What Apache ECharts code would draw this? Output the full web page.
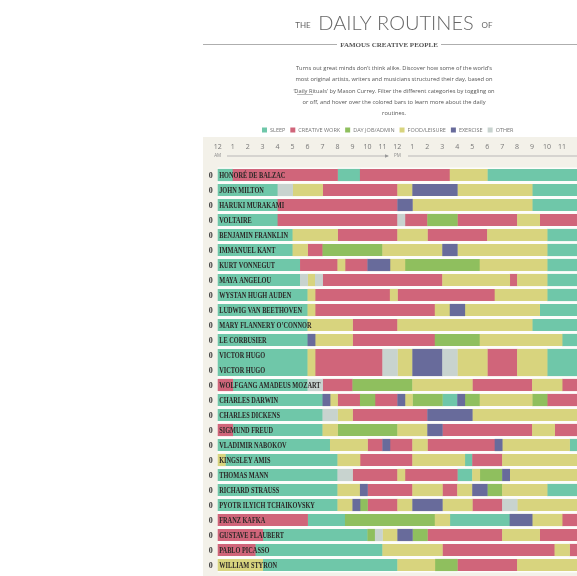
<!DOCTYPE html>
<html>
<head>
<meta charset="utf-8">
<title>The Daily Routines of Famous Creative People</title>
<script src="https://cdn.jsdelivr.net/npm/echarts@6/dist/echarts.min.js"></script>
<style>
	html,body{
		margin:0;
		padding:0;
		background:#fff;
	}
	#main{
		width:577px;
		height:576px;
	}
</style>
</head>
<body>
<div id="main"></div>
<script>
// activity codes
var S = 0, C = 1, D = 2, F = 3, E = 4, O = 5;

var activities = ['SLEEP', 'CREATIVE WORK', 'DAY JOB/ADMIN', 'FOOD/LEISURE', 'EXERCISE', 'OTHER'];
var colors = ['#6fc7a9', '#d0657a', '#8fbf5e', '#d8d47e', '#686b9b', '#c8d3cf'];

var hourLabels = ['12', '1', '2', '3', '4', '5', '6', '7', '8', '9', '10', '11',
	'12', '1', '2', '3', '4', '5', '6', '7', '8', '9', '10', '11', '12'];
var meridiem = { 0: 'AM', 12: 'PM' };

var people = ['HONORÉ DE BALZAC', 'JOHN MILTON', 'HARUKI MURAKAMI', 'VOLTAIRE', 'BENJAMIN FRANKLIN',
	'IMMANUEL KANT', 'KURT VONNEGUT', 'MAYA ANGELOU', 'WYSTAN HUGH AUDEN', 'LUDWIG VAN BEETHOVEN',
	'MARY FLANNERY O’CONNOR', 'LE CORBUSIER', 'VICTOR HUGO', 'WOLFGANG AMADEUS MOZART', 'CHARLES DARWIN',
	'CHARLES DICKENS', 'SIGMUND FREUD', 'VLADIMIR NABOKOV', 'KINGSLEY AMIS', 'THOMAS MANN',
	'RICHARD STRAUSS', 'PYOTR ILYICH TCHAIKOVSKY', 'FRANZ KAFKA', 'GUSTAVE FLAUBERT', 'PABLO PICASSO',
	'WILLIAM STYRON'];
// rows that take two lines in the table
var doubleRows = ['VICTOR HUGO'];

// [start hour, end hour, activity]
var routines = [
	[[0, 1, S], [1, 8, C], [8, 9.5, S], [9.5, 15.5, C], [15.5, 18, F], [18, 24, S]],
	[[0, 4, S], [4, 5, O], [5, 7, F], [7, 12, C], [12, 13, F], [13, 16, E], [16, 21, F], [21, 24, S]],
	[[0, 4, S], [4, 12, C], [12, 13, E], [13, 21, F], [21, 24, S]],
	[[0, 4, S], [4, 12, C], [12, 12.5, O], [12.5, 14, C], [14, 16, D], [16, 20, C], [20, 21.5, F], [21.5, 24, C]],
	[[0, 5, S], [5, 8, F], [8, 12, C], [12, 14, F], [14, 18, C], [18, 22, F], [22, 24, S]],
	[[0, 5, S], [5, 6, F], [6, 7, C], [7, 11, D], [11, 15, F], [15, 16, E], [16, 22, F], [22, 24, S]],
	[[0, 5.5, S], [5.5, 8, C], [8, 8.5, F], [8.5, 10, C], [10, 11.5, E], [11.5, 12.5, F], [12.5, 17.5, D], [17.5, 22, F], [22, 24, S]],
	[[0, 5.5, S], [5.5, 6, O], [6, 6.5, F], [6.5, 7, O], [7, 15, C], [15, 19.5, F], [19.5, 20, C], [20, 22, F], [22, 24, S]],
	[[0, 6, S], [6, 6.5, F], [6.5, 11.5, C], [11.5, 12, F], [12, 18.5, C], [18.5, 22, F], [22, 24, S]],
	[[0, 6, S], [6, 6.5, F], [6.5, 14.5, C], [14.5, 15.5, F], [15.5, 16.5, E], [16.5, 21.5, F], [21.5, 24, S]],
	[[0, 6, S], [6, 9, F], [9, 12, C], [12, 21, F], [21, 24, S]],
	[[0, 6, S], [6, 6.5, E], [6.5, 9, F], [9, 14.5, C], [14.5, 17.5, D], [17.5, 23, F], [23, 24, S]],
	[[0, 6, S], [6, 6.5, F], [6.5, 11, C], [11, 12, O], [12, 13, F], [13, 15, E], [15, 16, O], [16, 18, F], [18, 20, C], [20, 22, F], [22, 24, S]],
	[[0, 1, C], [1, 6, S], [6, 7, O], [7, 9, C], [9, 13, D], [13, 17, F], [17, 21, C], [21, 23, F], [23, 24, C]],
	[[0, 7, S], [7, 7.5, E], [7.5, 8, F], [8, 9.5, C], [9.5, 10.5, D], [10.5, 12, C], [12, 12.5, E], [12.5, 13, F], [13, 15, D], [15, 16, S], [16, 16.5, E], [16.5, 17.5, D], [17.5, 21, F], [21, 22, D], [22, 24, C]],
	[[0, 7, S], [7, 8, O], [8, 9, F], [9, 14, C], [14, 17, E], [17, 24, F]],
	[[0, 1, C], [1, 7, S], [7, 8, F], [8, 12, D], [12, 14, F], [14, 15, E], [15, 21, C], [21, 22.5, F], [22.5, 24, C]],
	[[0, 7.5, S], [7.5, 10, F], [10, 11, C], [11, 11.5, E], [11.5, 13, C], [13, 14, F], [14, 18.5, C], [18.5, 19, E], [19, 23.5, F], [23.5, 24, S]],
	[[0, 0.5, F], [0.5, 8, S], [8, 9.5, F], [9.5, 13, C], [13, 16.5, F], [16.5, 17, S], [17, 19, C], [19, 24, F]],
	[[0, 8, S], [8, 9, O], [9, 12, C], [12, 12.5, F], [12.5, 16, C], [16, 17, S], [17, 17.5, F], [17.5, 19, D], [19, 19.5, E], [19.5, 24, F]],
	[[0, 8, S], [8, 9.5, F], [9.5, 10, E], [10, 13, C], [13, 15, F], [15, 16, C], [16, 17, F], [17, 18, E], [18, 19, D], [19, 22, F], [22, 24, S]],
	[[0, 8, S], [8, 9, F], [9, 9.5, E], [9.5, 10, D], [10, 12, C], [12, 13, F], [13, 15, E], [15, 17, F], [17, 19, C], [19, 20, O], [20, 24, F]],
	[[0, 6, C], [6, 8.5, S], [8.5, 14.5, D], [14.5, 15.5, F], [15.5, 19.5, S], [19.5, 21, E], [21, 23, F], [23, 24, C]],
	[[0, 3, C], [3, 10, S], [10, 10.5, D], [10.5, 11, O], [11, 12, F], [12, 13, E], [13, 14, D], [14, 19, C], [19, 21.5, F], [21.5, 24, C]],
	[[0, 2.5, C], [2.5, 11, S], [11, 15, F], [15, 22.5, C], [22.5, 23.5, F], [23.5, 24, C]],
	[[0, 3, F], [3, 12, S], [12, 14.5, F], [14.5, 16, D], [16, 20, C], [20, 24, F]]
];

// which table line each person starts on
var slotOf = [], spanOf = [], totalSlots = 0;
people.forEach(function (name, i) {
	slotOf[i] = totalSlots;
	spanOf[i] = doubleRows.indexOf(name) >= 0 ? 2 : 1;
	totalSlots += spanOf[i];
});

function renderBar(params, api) {
	var a = api.coord([api.value(0), api.value(2)]);
	var b = api.coord([api.value(1), api.value(2) + api.value(3)]);
	return {
		type: 'rect',
		shape: { x: a[0], y: a[1] + 1.4, width: b[0] - a[0] + 0.4, height: b[1] - a[1] - 2.8 },
		style: { fill: api.visual('color') }
	};
}

function renderName(params, api) {
	var p = api.coord([0, api.value(0)]);
	var name = people[api.value(1)];
	return {
		type: 'group',
		children: [{
			type: 'text',
			x: p[0] + 1.5, y: p[1] + 0.5, scaleX: 0.7,
			style: { text: name, font: 'bold 9px "Liberation Serif"', fill: '#2b2726', align: 'left', verticalAlign: 'middle' }
		}, {
			type: 'text',
			x: p[0] - 7, y: p[1] + 0.5,
			style: { text: '0', font: 'bold 8px "Liberation Serif"', fill: '#3a3a3a', align: 'center', verticalAlign: 'middle' }
		}]
	};
}

var series = activities.map(function (act, k) {
	var data = [];
	routines.forEach(function (segs, i) {
		segs.forEach(function (s) {
			if (s[2] === k) data.push([s[0], s[1], slotOf[i], spanOf[i]]);
		});
	});
	return {
		name: act,
		type: 'custom',
		renderItem: renderBar,
		itemStyle: { color: colors[k] },
		encode: { x: [0, 1], y: 2 },
		data: data
	};
});

var nameData = [];
people.forEach(function (name, i) {
	for (var j = 0; j < spanOf[i]; j++) nameData.push([slotOf[i] + j + 0.5, i]);
});
series.push({
	name: 'names',
	type: 'custom',
	z: 5,
	silent: true,
	renderItem: renderName,
	encode: { y: 0 },
	data: nameData
});

var intro = [
	'Turns out great minds don’t think alike. Discover how some of the world’s',
	'most original artists, writers and musicians structured their day, based on',
	'‘Daily Rituals’ by Mason Currey. Filter the different categories by toggling on',
	'or off, and hover over the colored bars to learn more about the daily',
	'routines.'
];

var graphics = [
	{ type: 'rect', z: -10, shape: { x: 203, y: 137, width: 380, height: 440 }, style: { fill: '#f3f1e9' } },
	{ type: 'rect', z: -9, shape: { x: 217.7, y: 167.5, width: 365, height: 405 }, style: { fill: '#fdfdfb' } },
	{ type: 'text', x: 303, y: 25, style: { text: 'THE', font: '8px Lato', fill: '#666', align: 'center', verticalAlign: 'middle' } },
	{ type: 'text', x: 396, y: 24, style: { text: 'DAILY ROUTINES', font: '300 20px Lato', fill: '#666', align: 'center', verticalAlign: 'middle' } },
	{ type: 'text', x: 487, y: 25, style: { text: 'OF', font: '8px Lato', fill: '#666', align: 'center', verticalAlign: 'middle' } },
	{ type: 'line', shape: { x1: 203, y1: 44.5, x2: 337, y2: 44.5 }, style: { stroke: '#999', lineWidth: 0.8 } },
	{ type: 'line', shape: { x1: 441, y1: 44.5, x2: 577, y2: 44.5 }, style: { stroke: '#999', lineWidth: 0.8 } },
	{ type: 'text', x: 389, y: 45, style: { text: 'FAMOUS CREATIVE PEOPLE', font: 'bold 7px "Liberation Serif"', fill: '#555', align: 'center', verticalAlign: 'middle' } },
	{ type: 'line', shape: { x1: 297, y1: 94.5, x2: 313, y2: 94.5 }, style: { stroke: '#777', lineWidth: 0.5 } },
	// time arrows under the hour labels
	{ type: 'line', shape: { x1: 227, y1: 156, x2: 388, y2: 156 }, style: { stroke: '#aaa', lineWidth: 0.8 } },
	{ type: 'polygon', shape: { points: [[389, 156], [385, 154.3], [385, 157.7]] }, style: { fill: '#999' } },
	{ type: 'line', shape: { x1: 408, y1: 156, x2: 577, y2: 156 }, style: { stroke: '#aaa', lineWidth: 0.8 } }
];
intro.forEach(function (line, i) {
	graphics.push({ type: 'text', x: 394, y: 68.5 + i * 11.2, style: { text: line, font: '5.75px "Open Sans"', fill: '#555', align: 'center', verticalAlign: 'middle' } });
});

var myChart = echarts.init(document.getElementById('main'));
var option = {
	animation: false,
	backgroundColor: '#fff',
	graphic: { elements: graphics },
	legend: {
		data: activities,
		left: 257,
		top: 122,
		icon: 'rect',
		itemWidth: 5,
		itemHeight: 5,
		itemGap: 5,
		selectedMode: false,
		textStyle: { fontSize: 5.5, color: '#777', fontFamily: 'Open Sans', padding: [0, 0, 0, -2] }
	},
	grid: { left: 217.7, top: 167.5, right: -3.3, bottom: 3.5 },
	xAxis: {
		type: 'value',
		position: 'top',
		min: 0,
		max: 24,
		interval: 1,
		axisLine: { show: false },
		axisTick: { show: false },
		splitLine: { show: false },
		axisLabel: {
			margin: 8.5,
			showMaxLabel: false,
			formatter: function (v) {
				return '{n|' + hourLabels[v] + '}\n{s|' + (meridiem[v] || ' ') + '}';
			},
			rich: {
				n: { fontSize: 7, lineHeight: 10, color: '#777', fontFamily: 'Open Sans' },
				s: { fontSize: 4.5, lineHeight: 7, color: '#888', fontFamily: 'Open Sans' }
			}
		}
	},
	yAxis: {
		type: 'value',
		min: 0,
		max: totalSlots,
		inverse: true,
		show: false
	},
	series: series
};
myChart.setOption(option);
</script>
</body>
</html>
